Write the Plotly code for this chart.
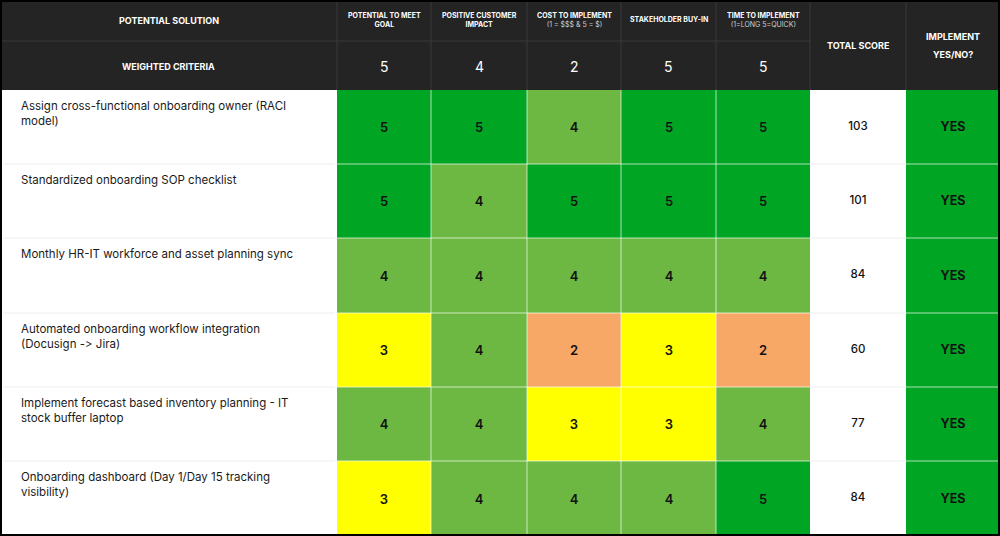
import plotly.graph_objects as go

# ---------------- data ----------------
solutions = [
    "Assign cross-functional onboarding owner (RACI<br>model)",
    "Standardized onboarding SOP checklist",
    "Monthly HR-IT workforce and asset planning sync",
    "Automated onboarding workflow integration<br>(Docusign -\u200c> Jira)",
    "Implement forecast based inventory planning - IT<br>stock buffer laptop",
    "Onboarding dashboard (Day 1/Day 15 tracking<br>visibility)",
]
criteria = [
    "POTENTIAL TO MEET<br>GOAL",
    "POSITIVE CUSTOMER<br>IMPACT",
    "COST TO IMPLEMENT",
    "STAKEHOLDER BUY-IN",
    "TIME TO IMPLEMENT",
]
criteria_sub = ["", "", "(1 = $$$ & 5 = $)", "", "(1=LONG 5=QUICK)"]
weights = [5, 4, 2, 5, 5]
potential = [5, 5, 4, 3, 4, 3]
customer = [5, 4, 4, 4, 4, 4]
cost = [4, 5, 4, 2, 3, 4]
buyin = [5, 5, 4, 3, 3, 4]
time_impl = [5, 5, 4, 2, 4, 5]
total_score = [103, 101, 84, 60, 77, 84]
implement = ["YES", "YES", "YES", "YES", "YES", "YES"]

# ---------------- layout constants ----------------
W, H = 1000, 536
col_edges = [0, 337, 431, 527, 621, 716, 810, 906, 1000]
hdr1, hdr2 = 41, 90
row_edges = [90, 164, 238, 313, 387, 461, 536]

HEADER_BG = "#242424"
HEADER_LINE = "#38383a"
DARK_GREEN = "#00a524"
LIGHT_GREEN = "#6db843"
YELLOW = "#ffff00"
ORANGE = "#f7a866"
RED = "#ff4b4b"
FONT = "Inter"

scores = [potential, customer, cost, buyin, time_impl]
z = [[scores[c][r] for c in range(5)] for r in range(len(solutions))]

colorscale = [
    [0.0, RED], [0.2, RED],
    [0.2, ORANGE], [0.4, ORANGE],
    [0.4, YELLOW], [0.6, YELLOW],
    [0.6, LIGHT_GREEN], [0.8, LIGHT_GREEN],
    [0.8, DARK_GREEN], [1.0, DARK_GREEN],
]

fig = go.Figure()

fig.add_trace(go.Heatmap(
    z=z,
    x=col_edges[1:7],
    y=row_edges,
    zmin=0.5, zmax=5.5,
    colorscale=colorscale,
    showscale=False,
    texttemplate="%{z}",
    textfont=dict(family=FONT, size=13, color="#111111", weight=600),
    hoverinfo="skip",
))

# implement column
impl_z = [[1 if v == "YES" else 0] for v in implement]
fig.add_trace(go.Heatmap(
    z=impl_z,
    x=col_edges[7:9],
    y=row_edges,
    zmin=0, zmax=1,
    colorscale=[[0, RED], [1, DARK_GREEN]],
    showscale=False,
    text=[[v] for v in implement],
    texttemplate="<b>%{text}</b>",
    textfont=dict(family=FONT, size=12.5, color="#111111"),
    hoverinfo="skip",
))

# total score column as text
fig.add_trace(go.Scatter(
    x=[(col_edges[6] + col_edges[7]) / 2] * len(total_score),
    y=[(row_edges[i] + row_edges[i + 1]) / 2 for i in range(len(total_score))],
    mode="text",
    text=[str(v) for v in total_score],
    textfont=dict(family=FONT, size=11.5, color="#111111", weight=500),
    hoverinfo="skip",
    showlegend=False,
))

shapes = []
annotations = []

# header background
shapes.append(dict(type="rect", x0=0, x1=W, y0=0, y1=hdr2, fillcolor=HEADER_BG,
                   line=dict(width=0), layer="below"))
# header dividers
for xe in col_edges[1:-1]:
    shapes.append(dict(type="line", x0=xe, x1=xe, y0=0, y1=hdr2,
                       line=dict(color=HEADER_LINE, width=1)))
shapes.append(dict(type="line", x0=0, x1=col_edges[6], y0=hdr1, y1=hdr1,
                   line=dict(color=HEADER_LINE, width=1)))

# grid lines over colored cells
for xe in col_edges[2:6]:
    shapes.append(dict(type="line", x0=xe, x1=xe, y0=hdr2, y1=H,
                       line=dict(color="rgba(255,255,255,0.45)", width=1.5)))
for ye in row_edges[1:-1]:
    shapes.append(dict(type="line", x0=col_edges[1], x1=col_edges[6], y0=ye, y1=ye,
                       line=dict(color="rgba(255,255,255,0.45)", width=1.5)))
    shapes.append(dict(type="line", x0=col_edges[7], x1=col_edges[8], y0=ye, y1=ye,
                       line=dict(color="rgba(255,255,255,0.45)", width=1.5)))
    shapes.append(dict(type="line", x0=3, x1=col_edges[1] - 2, y0=ye, y1=ye,
                       line=dict(color="#eeeeee", width=1)))
    shapes.append(dict(type="line", x0=col_edges[6], x1=col_edges[7], y0=ye, y1=ye,
                       line=dict(color="#eeeeee", width=1)))

# outer border
shapes.append(dict(type="rect", x0=0, x1=W, y0=0, y1=H,
                   line=dict(color="#000000", width=4), fillcolor="rgba(0,0,0,0)"))

# header texts
annotations.append(dict(x=col_edges[1] / 2, y=20, text="<b>POTENTIAL SOLUTION</b>",
                        font=dict(family=FONT, size=9, color="white")))
annotations.append(dict(x=col_edges[1] / 2, y=66, text="<b>WEIGHTED CRITERIA</b>",
                        font=dict(family=FONT, size=9, color="white")))
for i, (c, s, w) in enumerate(zip(criteria, criteria_sub, weights)):
    xc = (col_edges[i + 1] + col_edges[i + 2]) / 2
    txt = "<b>" + c + "</b>"
    if s:
        txt += "<br><span style='font-size:7px;color:#cfcfcf'>" + s + "</span>"
    yc = 20 if "<br>" in txt else 19
    annotations.append(dict(x=xc, y=yc, text=txt,
                            font=dict(family=FONT, size=7, color="white")))
    annotations.append(dict(x=xc, y=66, text=str(w),
                            font=dict(family=FONT, size=14, color="white")))
annotations.append(dict(x=(col_edges[6] + col_edges[7]) / 2, y=45,
                        text="<b>TOTAL SCORE</b>",
                        font=dict(family=FONT, size=9, color="white")))
annotations.append(dict(x=(col_edges[7] + col_edges[8]) / 2, y=36,
                        text="<b>IMPLEMENT</b>",
                        font=dict(family=FONT, size=9, color="white")))
annotations.append(dict(x=(col_edges[7] + col_edges[8]) / 2, y=54,
                        text="<b>YES/NO?</b>",
                        font=dict(family=FONT, size=9, color="white")))

# row texts
for i, s in enumerate(solutions):
    annotations.append(dict(x=19, y=row_edges[i] + 7, text=s, xanchor="left", yanchor="top",
                            align="left",
                            font=dict(family=FONT, size=11.5, color="#1a1a1a")))

for a in annotations:
    a.setdefault("showarrow", False)
    a.setdefault("xref", "x")
    a.setdefault("yref", "y")

fig.update_layout(
    width=W, height=H,
    margin=dict(l=0, r=0, t=0, b=0),
    paper_bgcolor="white",
    plot_bgcolor="white",
    xaxis=dict(range=[0, W], visible=False, fixedrange=True),
    yaxis=dict(range=[H, 0], visible=False, fixedrange=True),
    shapes=shapes,
    annotations=annotations,
    showlegend=False,
)

fig.write_html(
    "out.html",
    config={"displayModeBar": False},
    post_script="document.body.style.margin='0';document.body.style.overflow='hidden';",
)
